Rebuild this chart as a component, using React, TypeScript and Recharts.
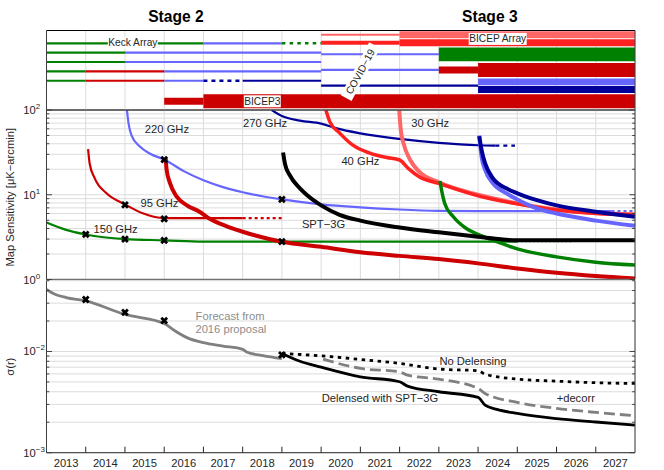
import { LineChart, Line, XAxis, YAxis, CartesianGrid, ReferenceDot } from "recharts"

const GREEN = "#008000"
const BLUE = "#6666ff"
const DARK_RED = "#cc0000"
const NAVY = "#000099"
const RED = "#ff2020"
const LIGHT_RED = "#ff6666"
const GREY = "#808080"
const FONT = '"Liberation Sans", Arial, sans-serif'

const WIDTH = 664
const HEIGHT = 470
const LEFT = 46.5
const RIGHT = 29

const YEAR_DOMAIN = [2013, 2028]
const YEAR_TICKS = [2014, 2015, 2016, 2017, 2018, 2019, 2020, 2021, 2022, 2023, 2024, 2025, 2026, 2027]
const YEAR_LABELS = [2013, 2014, 2015, 2016, 2017, 2018, 2019, 2020, 2021, 2022, 2023, 2024, 2025, 2026, 2027]

const SENS_TICKS = [1, 2, 3, 4, 5, 6, 7, 8, 9, 10, 20, 30, 40, 50, 60, 70, 80, 90, 100]
const SIGMA_TICKS = [0.001, 0.002, 0.003, 0.004, 0.005, 0.006, 0.007, 0.008, 0.009, 0.01, 0.02, 0.03, 0.04, 0.05]

type Pair = [number, number]
type Seg = [number, number, number] // from, to, row

// receiver timeline, one list per stroke style
const thinGreen: Seg[] = [[2013, 2017, 7.13], [2013, 2015, 6.13], [2013, 2015, 5.13], [2013, 2014, 4.14], [2013, 2014, 3.13]]
const dottedGreen: Seg[] = [[2019, 2020, 7.13]]
const thinBlue: Seg[] = [[2017, 2019, 7.13], [2015, 2020, 6.13], [2015, 2020, 5.13], [2016, 2020, 4.14], [2016, 2017, 3.13], [2020, 2023, 5.96], [2020, 2023, 4.28]]
const thinDarkRed: Seg[] = [[2014, 2016, 4.14], [2014, 2016, 3.13]]
const dottedNavy: Seg[] = [[2017, 2018, 3.13]]
const thinNavy: Seg[] = [[2018, 2020, 3.13], [2020, 2024, 2.6]]
const thinLightRed: Seg[] = [[2020, 2022, 8.05]]
const midRed: Seg[] = [[2020, 2022, 7.2]]
const wideLightRed: Seg[] = [[2022, 2028, 8.04]]
const wideRed: Seg[] = [[2022, 2028, 7.2]]
const wideGreen: Seg[] = [[2023, 2028, 5.94]]
const midDarkRed: Seg[] = [[2023, 2024, 4.28], [2016, 2017, 0.93]]
const wideDarkRed: Seg[] = [[2024, 2028, 4.28], [2017, 2028, 0.93]]
const wideBlue: Seg[] = [[2024, 2028, 3.0]]
const wideNavy: Seg[] = [[2024, 2028, 2.19]]

// map sensitivity, [year, value]
const thin220: Pair[] = [[2015.05, 100], [2015.09, 70], [2015.17, 50], [2015.38, 37], [2015.64, 30.5], [2016, 26], [2016.5, 19], [2017, 14.8], [2017.5, 12.3], [2018, 10.7], [2018.5, 9.6], [2019, 8.8], [2020, 7.7], [2021, 7.1], [2022, 6.7], [2023, 6.46], [2024, 6.4], [2027.4, 6.4]]
const thin220Tail: Pair[] = [[2027.4, 6.4], [2028, 6.4]]
const thin95: Pair[] = [[2014.06, 34.5], [2014.1, 23.4], [2014.23, 15.6], [2014.53, 10.4], [2015, 7.7], [2015.47, 6], [2016, 5.3], [2018, 5.3]]
const thin95Tail: Pair[] = [[2018, 5.3], [2019, 5.3]]
const thin150: Pair[] = [[2013, 4.7], [2013.5, 3.85], [2014, 3.4], [2015, 3.0], [2016, 2.9], [2017, 2.8], [2019, 2.8], [2025, 2.8]]
const thin150Tail: Pair[] = [[2025, 2.8], [2026.4, 2.8]]
const thin270: Pair[] = [[2018.74, 100], [2019, 85], [2019.46, 75], [2020, 69], [2020.4, 60.6], [2021, 53], [2022, 45.6], [2023, 41], [2024, 38.4], [2024.44, 38]]
const thin270Tail: Pair[] = [[2024.44, 38], [2024.94, 38]]
const bicep3: Pair[] = [[2016.04, 26.8], [2016.06, 20], [2016.15, 13.6], [2016.32, 9.5], [2016.57, 7.55], [2016.9, 6.3], [2017.15, 5.25], [2017.58, 4.27], [2018, 3.66], [2019, 2.79], [2020, 2.43], [2021, 2.1], [2022, 1.9], [2023, 1.74], [2024, 1.55], [2025, 1.35], [2026, 1.2], [2027, 1.1], [2028, 1.03]]
const ghz40: Pair[] = [[2020.12, 100], [2020.22, 73], [2020.48, 53], [2020.8, 38.7], [2021.24, 31], [2021.67, 27.5], [2022, 25.7], [2022.22, 20.5], [2022.5, 16.3], [2023, 13.6], [2024, 9.7], [2025, 7.8], [2026, 6.6], [2027, 6.0], [2028, 5.8]]
const ghz30: Pair[] = [[2021.99, 100], [2022.03, 58], [2022.1, 40.4], [2022.27, 25.7], [2022.5, 18.7], [2023, 14], [2024, 10], [2025, 7.9], [2026, 6.7], [2027, 6.1], [2028, 5.9]]
const spt3g: Pair[] = [[2019.03, 31.5], [2019.08, 23], [2019.2, 17], [2019.46, 11.9], [2019.63, 10], [2020, 7.5], [2020.47, 5.8], [2021, 4.95], [2022, 4.1], [2023, 3.6], [2024, 3.2], [2025, 2.9], [2028, 2.9]]
const stage3Green: Pair[] = [[2023.03, 14.5], [2023.07, 11.3], [2023.15, 7.9], [2023.37, 5.5], [2023.7, 4], [2024, 3.4], [2024.38, 2.9], [2025, 2.3], [2026, 1.85], [2027, 1.6], [2028, 1.48]]
const stage3Blue: Pair[] = [[2024.03, 50], [2024.09, 28], [2024.18, 19.6], [2024.38, 13.6], [2024.72, 10.4], [2025, 8.8], [2025.5, 6.9], [2026, 6], [2027, 4.95], [2028, 4.3]]
const stage3Navy: Pair[] = [[2024.03, 49], [2024.09, 33.7], [2024.18, 23.4], [2024.38, 15.6], [2024.72, 11.9], [2025, 10.4], [2025.5, 8.65], [2026, 7.5], [2027, 6.3], [2028, 5.5]]
const sensMarks: Pair[] = [[2016, 26], [2015, 7.6], [2016, 5.2], [2014, 3.4], [2015, 3.0], [2016, 2.9], [2019, 8.8], [2019, 2.8]]

// sigma(r), [year, value]
const forecast: Pair[] = [[2013, 0.0409], [2013.2, 0.0369], [2013.5, 0.0341], [2014, 0.0316], [2015, 0.0232], [2016, 0.0189], [2016.25, 0.0162], [2016.58, 0.0137], [2017, 0.0122], [2017.5, 0.0113], [2018, 0.0105], [2018.1, 0.0099], [2018.52, 0.0091], [2019, 0.0085]]
const delensed: Pair[] = [[2019, 0.00955], [2019.46, 0.008], [2020, 0.007], [2021, 0.00562], [2022, 0.00502], [2022.2, 0.00455], [2023, 0.004], [2024, 0.00352], [2024.18, 0.00295], [2024.48, 0.00268], [2025, 0.00244], [2026, 0.00217], [2027, 0.00201], [2028, 0.00187]]
const decorr: Pair[] = [[2020.05, 0.0084], [2021, 0.0068], [2022, 0.0063], [2022.2, 0.00583], [2023, 0.00533], [2024, 0.00431], [2024.18, 0.00385], [2025, 0.00314], [2026, 0.00274], [2027, 0.0025], [2028, 0.00232]]
const noDelensing: Pair[] = [[2019, 0.00955], [2020, 0.00906], [2021, 0.00834], [2022, 0.00762], [2023, 0.0067], [2024, 0.00644], [2024.18, 0.00597], [2025, 0.00533], [2026, 0.00509], [2027, 0.00491], [2028, 0.00483]]
const sigmaMarks: Pair[] = [[2014, 0.0326], [2015, 0.0243], [2016, 0.0202], [2019, 0.00927]]

// text, year, value
const timelineLabels: [string, number, number][] = [["Keck Array", 2015.2, 7.2], ["BICEP3", 2018.5, 0.93], ["BICEP Array", 2024.5, 7.6]]
const sensLabels: [string, number, number][] = [
  ["220 GHz", 2016.07, 59.2], ["270 GHz", 2018.57, 69.6], ["30 GHz", 2022.78, 69.6], ["40 GHz", 2021, 25],
  ["95 GHz", 2015.88, 7.9], ["150 GHz", 2014.76, 3.93], ["SPT\u22123G", 2020.06, 4.5],
]
const sigmaLabels: [string, number, number][] = [
  ["No Delensing", 2023.87, 0.00798], ["Delensed with SPT\u22123G", 2021.5, 0.00349], ["+decorr", 2026.49, 0.00349],
]
const forecastLabels: [string, number, number][] = [["Forecast from", 2017.68, 0.0222], ["2016 proposal", 2017.7, 0.0166]]
const stageLabels: [string, number, number][] = [["Stage 2", 2016.3, 10.05], ["Stage 3", 2024.3, 10.05]]

const timeline: { segs: Seg[]; stroke: string; width: number; dash?: string }[] = [
  { segs: thinGreen, stroke: GREEN, width: 2.2 },
  { segs: dottedGreen, stroke: GREEN, width: 2.4, dash: "3.5 4.2" },
  { segs: thinBlue, stroke: BLUE, width: 2.2 },
  { segs: thinDarkRed, stroke: DARK_RED, width: 2.2 },
  { segs: dottedNavy, stroke: NAVY, width: 2.4, dash: "4 4" },
  { segs: thinNavy, stroke: NAVY, width: 2.2 },
  { segs: thinLightRed, stroke: LIGHT_RED, width: 2 },
  { segs: midRed, stroke: RED, width: 4 },
  { segs: wideLightRed, stroke: LIGHT_RED, width: 7 },
  { segs: wideRed, stroke: RED, width: 7 },
  { segs: wideGreen, stroke: GREEN, width: 13.7 },
  { segs: midDarkRed, stroke: DARK_RED, width: 7 },
  { segs: wideDarkRed, stroke: DARK_RED, width: 14 },
  { segs: wideBlue, stroke: BLUE, width: 6.7 },
  { segs: wideNavy, stroke: NAVY, width: 7 },
]

const sensCurves: { pts: Pair[]; stroke: string; width: number; dash?: string }[] = [
  { pts: thin220, stroke: BLUE, width: 2.2 },
  { pts: thin220Tail, stroke: BLUE, width: 2.2, dash: "3 3" },
  { pts: thin270, stroke: NAVY, width: 2.2 },
  { pts: thin270Tail, stroke: NAVY, width: 2.2, dash: "4 4" },
  { pts: thin150, stroke: GREEN, width: 2.2 },
  { pts: thin150Tail, stroke: GREEN, width: 1.5, dash: "2 2" },
  { pts: thin95, stroke: DARK_RED, width: 2.2 },
  { pts: thin95Tail, stroke: DARK_RED, width: 2.2, dash: "3 3" },
  { pts: ghz30, stroke: LIGHT_RED, width: 4 },
  { pts: ghz40, stroke: RED, width: 3.5 },
  { pts: stage3Green, stroke: GREEN, width: 3.5 },
  { pts: stage3Blue, stroke: BLUE, width: 4 },
  { pts: stage3Navy, stroke: NAVY, width: 4 },
  { pts: bicep3, stroke: DARK_RED, width: 4 },
  { pts: spt3g, stroke: "#000000", width: 4 },
]

const sigmaCurves: { pts: Pair[]; stroke: string; width: number; dash?: string }[] = [
  { pts: forecast, stroke: GREY, width: 2.8 },
  { pts: decorr, stroke: GREY, width: 2.8, dash: "11 5" },
  { pts: delensed, stroke: "#000000", width: 2.8 },
  { pts: noDelensing, stroke: "#000000", width: 2.8, dash: "3.5 4.5" },
]

const toPoints = (pairs: Pair[]) => pairs.map(([x, y]) => ({ x, y }))

const exponent = (v: number) => Math.round(Math.log10(v))
const isDecade = (v: number) => Math.abs(Math.log10(v) - exponent(v)) < 1e-6

function LeftTick({ x, y, payload }: any) {
  const v = payload.value
  const major = isDecade(v)
  const exp = exponent(v)
  return (
    <g>
      <line x1={x} x2={x + (major ? 5.5 : 2.8)} y1={y} y2={y} stroke="#404040" />
      {major && (
        <text x={x - 23.2} y={y + 4} fontFamily={FONT} fontSize={11.2} fill="#262626">
          10
          <tspan dy={-5} fontSize={8}>
            {exp < 0 ? `\u2212${-exp}` : exp}
          </tspan>
        </text>
      )}
    </g>
  )
}

function RightTick({ x, y, payload }: any) {
  const major = isDecade(payload.value)
  return <line x1={x} x2={x - (major ? 5.5 : 2.8)} y1={y} y2={y} stroke="#404040" />
}

const TopTick = ({ x, y }: any) => <line x1={x} x2={x} y1={y} y2={y + 5.5} stroke="#262626" />
const NoTick = () => <g />

// whole years get a tick mark, half years carry the year label
function YearTick({ x, y, payload }: any) {
  const v = payload.value
  if (Number.isInteger(v)) return <line x1={x} x2={x} y1={y} y2={y - 6} stroke="#262626" />
  return (
    <text x={x} y={y + 14} textAnchor="middle" fontFamily={FONT} fontSize={11.2} fill="#262626">
      {Math.floor(v)}
    </text>
  )
}

const MarkX = ({ cx, cy }: any) => (
  <path d={`M${cx - 2.9} ${cy - 2.9}L${cx + 2.9} ${cy + 2.9}M${cx - 2.9} ${cy + 2.9}L${cx + 2.9} ${cy - 2.9}`} stroke="#000" strokeWidth={2.8} fill="none" />
)

function textShape(text: string, fill: string, size = 11.2, weight = "normal") {
  return ({ cx, cy }: any) => (
    <text x={cx} y={cy} textAnchor="middle" dominantBaseline="central" fontFamily={FONT} fontSize={size} fontWeight={weight} fill={fill}>
      {text}
    </text>
  )
}

function boxedShape(text: string, w: number, h: number, angle = 0) {
  return ({ cx, cy }: any) => (
    <g transform={`rotate(${angle} ${cx} ${cy})`}>
      <rect x={cx - w / 2} y={cy - h / 2} width={w} height={h} fill="#fff" />
      <text x={cx} y={cy} textAnchor="middle" dominantBaseline="central" fontFamily={FONT} fontSize={10.2} fill="#262626">
        {text}
      </text>
    </g>
  )
}

// axes have size 1 (recharts skips drawing size 0), so the margins give them that pixel back
function frame(top: number, bottom: number) {
  return {
    width: WIDTH,
    height: HEIGHT,
    margin: { top: top - 1, bottom: HEIGHT - bottom - 1, left: LEFT - 1, right: RIGHT - 1 },
  }
}

const boxStyle = { position: "absolute" as const, left: 0, top: 0 }
const gridColor = "#dcdcdc"
const axisColor = "#404040"

function TimelinePanel() {
  return (
    <div style={boxStyle}>
      <LineChart {...frame(30.5, 110)}>
        <CartesianGrid horizontal={false} stroke={gridColor} />
        <XAxis dataKey="x" type="number" domain={YEAR_DOMAIN} ticks={YEAR_TICKS} height={1} tick={NoTick} tickLine={false} stroke={axisColor} />
        <XAxis xAxisId="top" orientation="top" dataKey="x" type="number" domain={YEAR_DOMAIN} ticks={YEAR_TICKS} height={1} tick={NoTick} tickLine={false} stroke="#000" />
        <YAxis type="number" domain={[0, 8.5]} width={1} tick={false} tickLine={false} stroke={axisColor} />
        <YAxis yAxisId="right" orientation="right" type="number" domain={[0, 8.5]} width={1} tick={false} tickLine={false} stroke={axisColor} />
        {timeline.flatMap((group, i) =>
          group.segs.map(([from, to, row], j) => (
            <Line
              key={`${i}-${j}`}
              data={[{ x: from, y: row }, { x: to, y: row }]}
              dataKey="y"
              stroke={group.stroke}
              strokeWidth={group.width}
              strokeDasharray={group.dash}
              dot={false}
              isAnimationActive={false}
            />
          ))
        )}
        {timelineLabels.map(([text, x, y]) => (
          <ReferenceDot key={text} x={x} y={y} r={0} ifOverflow="visible" shape={boxedShape(text, text === "Keck Array" ? 50 : text === "BICEP3" ? 37 : 58, 12)} />
        ))}
        <ReferenceDot x={2021} y={4.1} r={0} ifOverflow="visible" shape={boxedShape("COVID\u221219", 60, 12.5, -61.5)} />
        {stageLabels.map(([text, x, y]) => (
          <ReferenceDot key={text} x={x} y={y} r={0} ifOverflow="visible" shape={textShape(text, "#000", 15.6, "bold")} />
        ))}
      </LineChart>
    </div>
  )
}

function SensitivityPanel() {
  return (
    <div style={boxStyle}>
      <LineChart {...frame(110, 279.5)}>
        <CartesianGrid stroke={gridColor} />
        <XAxis dataKey="x" type="number" domain={YEAR_DOMAIN} ticks={YEAR_TICKS} height={1} tick={NoTick} tickLine={false} stroke="#707070" strokeWidth={1.6} />
        <XAxis xAxisId="top" orientation="top" dataKey="x" type="number" domain={YEAR_DOMAIN} ticks={YEAR_TICKS} height={1} tick={TopTick} tickLine={false} tickSize={0} tickMargin={0} stroke={axisColor} />
        <YAxis
          type="number"
          scale="log"
          domain={[1, 100]}
          allowDataOverflow
          ticks={SENS_TICKS}
          interval={0}
          width={1}
          tick={LeftTick}
          tickLine={false}
          tickSize={0}
          tickMargin={0}
          stroke={axisColor}
          label={{ value: "Map Sensitivity [\u03bcK\u2212arcmin]", angle: -90, position: "center", dx: -35.5, dy: 2.5, fontFamily: FONT, fontSize: 11.2, fill: "#262626" }}
        />
        <YAxis yAxisId="right" orientation="right" type="number" scale="log" domain={[1, 100]} allowDataOverflow ticks={SENS_TICKS} interval={0} width={1} tick={RightTick} tickLine={false} tickSize={0} tickMargin={0} stroke={axisColor} />
        {sensCurves.map((c, i) => (
          <Line
            key={i}
            data={toPoints(c.pts)}
            dataKey="y"
            type="monotone"
            stroke={c.stroke}
            strokeWidth={c.width}
            strokeDasharray={c.dash}
            dot={false}
            isAnimationActive={false}
          />
        ))}
        <Line data={toPoints(sensMarks)} dataKey="y" stroke="none" dot={MarkX} isAnimationActive={false} />
        {sensLabels.map(([text, x, y]) => (
          <ReferenceDot key={text} x={x} y={y} r={0} ifOverflow="visible" shape={textShape(text, "#262626")} />
        ))}
      </LineChart>
    </div>
  )
}

function SigmaPanel() {
  return (
    <div style={boxStyle}>
      <LineChart {...frame(280.7, 452.7)}>
        <CartesianGrid xAxisId="top" stroke={gridColor} />
        <XAxis
          dataKey="x"
          type="number"
          domain={YEAR_DOMAIN}
          ticks={[...YEAR_TICKS, ...YEAR_LABELS.map((y) => y + 0.5)].sort((a, b) => a - b)}
          interval={0}
          height={1}
          tick={YearTick}
          tickLine={false}
          tickSize={0}
          tickMargin={0}
          stroke="#505050"
          strokeWidth={1.2}
        />
        <XAxis xAxisId="top" orientation="top" dataKey="x" type="number" domain={YEAR_DOMAIN} ticks={YEAR_TICKS} height={1} tick={TopTick} tickLine={false} tickSize={0} tickMargin={0} axisLine={false} />
        <YAxis
          type="number"
          scale="log"
          domain={[0.001, 0.05]}
          allowDataOverflow
          ticks={SIGMA_TICKS}
          interval={0}
          width={1}
          tick={LeftTick}
          tickLine={false}
          tickSize={0}
          tickMargin={0}
          stroke={axisColor}
          label={{ value: "\u03c3(r)", angle: -90, position: "center", dx: -35.5, fontFamily: FONT, fontSize: 11.2, fill: "#262626" }}
        />
        <YAxis yAxisId="right" orientation="right" type="number" scale="log" domain={[0.001, 0.05]} allowDataOverflow ticks={SIGMA_TICKS} interval={0} width={1} tick={RightTick} tickLine={false} tickSize={0} tickMargin={0} stroke={axisColor} />
        {sigmaCurves.map((c, i) => (
          <Line
            key={i}
            data={toPoints(c.pts)}
            dataKey="y"
            type="monotone"
            stroke={c.stroke}
            strokeWidth={c.width}
            strokeDasharray={c.dash}
            dot={false}
            isAnimationActive={false}
          />
        ))}
        <Line data={toPoints(sigmaMarks)} dataKey="y" stroke="none" dot={MarkX} isAnimationActive={false} />
        {sigmaLabels.map(([text, x, y]) => (
          <ReferenceDot key={text} x={x} y={y} r={0} ifOverflow="visible" shape={textShape(text, "#262626")} />
        ))}
        {forecastLabels.map(([text, x, y]) => (
          <ReferenceDot key={text} x={x} y={y} r={0} ifOverflow="visible" shape={textShape(text, "#8c8c8c")} />
        ))}
      </LineChart>
    </div>
  )
}

export default function App() {
  return (
    <div style={{ position: "absolute", left: 0, top: 0, width: WIDTH, height: HEIGHT, background: "#fff" }}>
      <SensitivityPanel />
      <SigmaPanel />
      <TimelinePanel />
    </div>
  )
}
